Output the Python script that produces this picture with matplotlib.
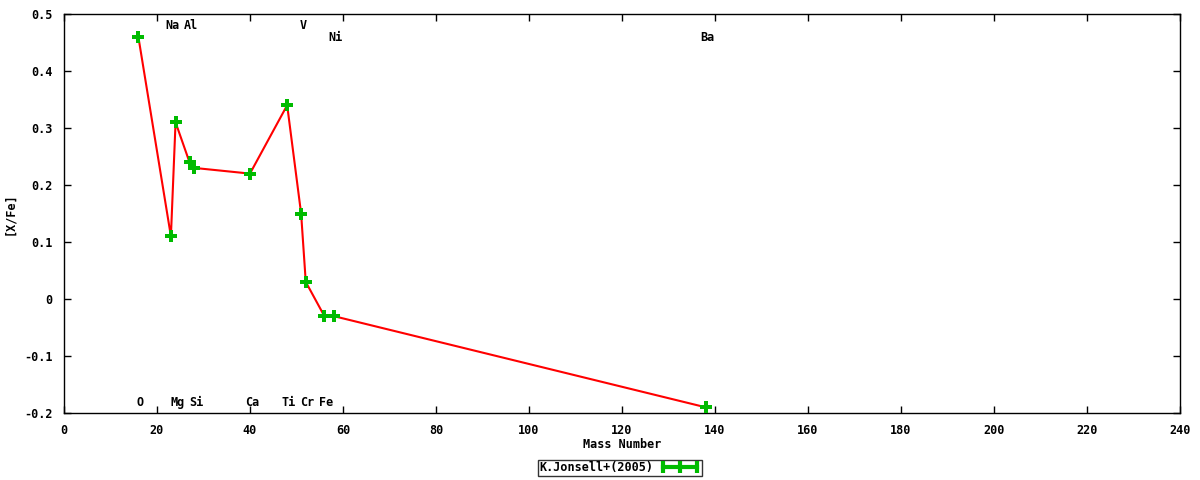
import matplotlib
matplotlib.use('Agg')
import matplotlib.pyplot as plt
from matplotlib.lines import Line2D

plt.rcParams['font.family'] = ['DejaVu Sans Mono']
plt.rcParams['font.weight'] = 'bold'

# Abundance data (K.Jonsell+2005)
elements = ['O', 'Na', 'Mg', 'Al', 'Si', 'Ca', 'Ti', 'V', 'Cr', 'Fe', 'Ni', 'Ba']
mass     = [16, 23, 24, 27, 28, 40, 48, 51, 52, 56, 58, 138]
xfe      = [0.46, 0.11, 0.31, 0.24, 0.23, 0.22, 0.34, 0.15, 0.03, -0.03, -0.03, -0.19]

# Label rows: 'top', 'mid', 'bot'
label_row = ['bot', 'top', 'bot', 'top', 'bot', 'bot', 'bot', 'top', 'bot', 'bot', 'mid', 'mid']
row_y = {'top': 0.479, 'mid': 0.458, 'bot': -0.182}

xticks = list(range(0, 241, 20))
yticks = [-0.2, -0.1, 0.0, 0.1, 0.2, 0.3, 0.4, 0.5]
yticklabels = ['-0.2', '-0.1', '0', '0.1', '0.2', '0.3', '0.4', '0.5']

fig = plt.figure(figsize=(12, 4.8), dpi=100)
ax = fig.add_axes([0.0533, 0.1396, 0.93, 0.8312])

ax.plot(mass, xfe, color='red', linewidth=1.5, zorder=2)
ax.plot(mass, xfe, linestyle='none', marker='P', markersize=9,
        color='#00bb00', markeredgewidth=0, zorder=3)

for el, m, r in zip(elements, mass, label_row):
    ax.text(m + 0.4, row_y[r], el, ha='center', va='center', fontsize=8.5,
            fontweight='bold')

ax.set_xlim(0, 240)
ax.set_ylim(-0.2, 0.5)
ax.set_xticks(xticks)
ax.set_yticks(yticks)
ax.set_yticklabels(yticklabels)
ax.tick_params(direction='in', top=True, right=True, length=5, labelsize=8.5, width=1)
ax.tick_params(axis='x', pad=8)
ax.tick_params(axis='y', pad=8)
for sp in ax.spines.values():
    sp.set_linewidth(1)

ax.set_xlabel('Mass Number', fontsize=8.5, fontweight='bold', labelpad=1)
ax.set_ylabel('[X/Fe]', fontsize=8.5, fontweight='bold', labelpad=6)

handle = Line2D([0], [0], color='#00bb00', linewidth=3, marker='|',
                markersize=9, markeredgewidth=3)
leg = fig.legend([handle], ['K.Jonsell+(2005)'], loc='center',
                 bbox_to_anchor=(0.5167, 0.025), numpoints=3, fontsize=8.5,
                 frameon=True, fancybox=False, edgecolor='black',
                 borderpad=0.1, handlelength=3.5, markerfirst=False,
                 handletextpad=0.5, borderaxespad=0)
leg.get_frame().set_linewidth(1)

fig.savefig('out.png', dpi=100)
